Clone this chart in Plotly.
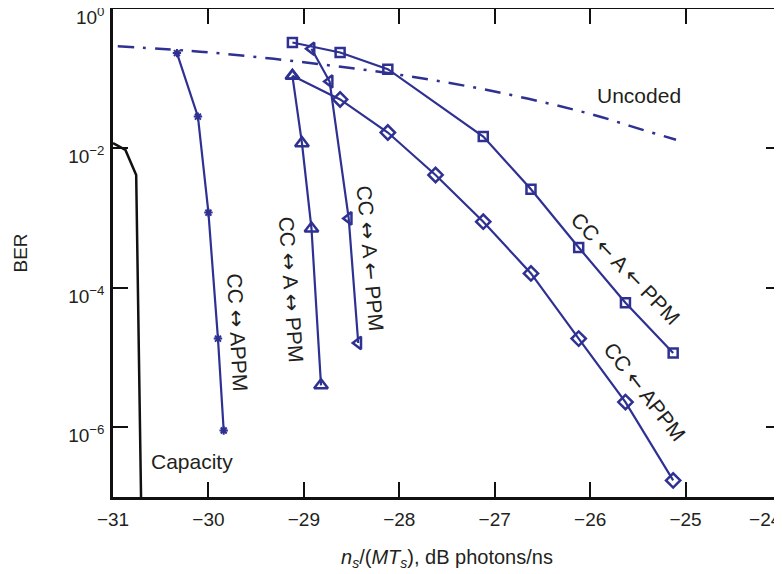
import plotly.graph_objects as go

# ---- data ----
appm_joint_x = [-30.33, -30.11, -30.00, -29.90, -29.84]
appm_joint_y = [0.233, 0.0286, 1.2e-3, 1.87e-5, 9.0e-7]

a_ppm_joint_x = [-29.12, -29.02, -28.92, -28.82]
a_ppm_joint_y = [0.110, 0.0119, 7.1e-4, 4.0e-6]

a_ppm_half_x = [-28.92, -28.73, -28.53, -28.43]
a_ppm_half_y = [0.269, 0.0912, 9.9e-4, 1.62e-5]

a_ppm_sep_x = [-29.12, -28.62, -28.12, -27.12, -26.62, -26.12, -25.63, -25.13]
a_ppm_sep_y = [0.331, 0.238, 0.137, 0.0148, 2.59e-3, 3.8e-4, 6.1e-5, 1.16e-5]

appm_sep_x = [-29.12, -28.62, -28.12, -27.62, -27.12, -26.62, -26.12, -25.63, -25.13]
appm_sep_y = [0.110, 0.0504, 0.0169, 4.16e-3, 8.9e-4, 1.61e-4, 1.87e-5, 2.3e-6, 1.73e-7]

uncoded_x = [-30.95, -30.0, -29.0, -28.0, -27.0, -26.0, -25.5, -25.1]
uncoded_y = [0.292, 0.239, 0.172, 0.114, 0.0655, 0.0313, 0.0194, 0.0133]

capacity_x = [-31.0, -30.87, -30.757, -30.705]
capacity_y = [0.0119, 0.0095, 4.16e-3, 8e-8]

x_ticks = [-31, -30, -29, -28, -27, -26, -25, -24]
x_ticktext = ["\u221231", "\u221230", "\u221229", "\u221228", "\u221227", "\u221226", "\u221225",
              "\u221224\u2007\u2007\u2007"]
y_ticks = [1e0, 1e-2, 1e-4, 1e-6]
y_ticktext = ["10<sup>0</sup>", "10<sup>\u22122</sup>", "10<sup>\u22124</sup>", "10<sup>\u22126</sup>"]

BLUE = "#2e3192"
TXT = "#231f20"
FONT = "Liberation Sans, Arial, sans-serif"

fig = go.Figure()

fig.add_trace(go.Scatter(x=capacity_x, y=capacity_y, mode="lines",
                         line=dict(color="#111111", width=2.5), showlegend=False))
fig.add_trace(go.Scatter(x=uncoded_x, y=uncoded_y, mode="lines",
                         line=dict(color=BLUE, width=2.5, dash="16px,9px,3px,9px"),
                         line_shape="spline", showlegend=False))
fig.add_trace(go.Scatter(x=appm_joint_x, y=appm_joint_y, mode="lines+markers",
                         line=dict(color=BLUE, width=2.2),
                         marker=dict(symbol="asterisk-open", size=7, color=BLUE,
                                     line=dict(color=BLUE, width=2)),
                         showlegend=False))
# first point shares the triangle marker of the CC<->A<->PPM curve
diamond_symbols = ["triangle-up-open"] + ["diamond-open"] * (len(appm_sep_x) - 1)
fig.add_trace(go.Scatter(x=appm_sep_x, y=appm_sep_y, mode="lines+markers",
                         line=dict(color=BLUE, width=2.2),
                         marker=dict(symbol=diamond_symbols, size=11, color=BLUE,
                                     line=dict(color=BLUE, width=2.5)),
                         showlegend=False))
fig.add_trace(go.Scatter(x=a_ppm_joint_x, y=a_ppm_joint_y, mode="lines+markers",
                         line=dict(color=BLUE, width=2.2),
                         marker=dict(symbol="triangle-up-open", size=12, color=BLUE,
                                     line=dict(color=BLUE, width=2.5)),
                         showlegend=False))
fig.add_trace(go.Scatter(x=a_ppm_half_x, y=a_ppm_half_y, mode="lines+markers",
                         line=dict(color=BLUE, width=2.2),
                         marker=dict(symbol="triangle-left-open", size=11, color=BLUE,
                                     line=dict(color=BLUE, width=2.5)),
                         showlegend=False))
fig.add_trace(go.Scatter(x=a_ppm_sep_x, y=a_ppm_sep_y, mode="lines+markers",
                         line=dict(color=BLUE, width=2.2),
                         marker=dict(symbol="square-open", size=9, color=BLUE,
                                     line=dict(color=BLUE, width=2.5)),
                         showlegend=False))

ARROW_LR = '<span style="font-family:DejaVu Sans">\u2194</span>'
ARROW_L = '<span style="font-family:DejaVu Sans">\u2190</span>'

ann_font = dict(family=FONT, size=21, color=TXT)
annotations = [
    dict(x=-25.485, y=-1.239, text="Uncoded", textangle=0),
    dict(x=-30.172, y=-6.497, text="Capacity", textangle=0),
    dict(x=-29.697, y=-4.644, text=f"CC {ARROW_LR} APPM", textangle=87),
    dict(x=-29.139, y=-4.019, text=f"CC {ARROW_LR} A {ARROW_LR} PPM", textangle=86),
    dict(x=-28.309, y=-3.573, text=f"CC {ARROW_LR} A {ARROW_L} PPM", textangle=85),
    dict(x=-25.631, y=-3.731, text=f"CC {ARROW_L} A {ARROW_L} PPM", textangle=46),
    dict(x=-25.433, y=-5.499, text=f"CC {ARROW_L} APPM", textangle=52),
]
for a in annotations:
    fig.add_annotation(xref="x", yref="y", showarrow=False, font=ann_font,
                       xanchor="center", yanchor="middle", **a)

fig.update_xaxes(range=[-31, -24], tickvals=x_ticks, ticktext=x_ticktext,
                 ticks="inside", ticklen=15, tickwidth=1.5, tickcolor="#111111",
                 showline=True, linecolor="#111111", linewidth=2.5, mirror="ticks",
                 showgrid=False, zeroline=False, automargin=False,
                 ticklabeloverflow="allow", ticklabelstandoff=3,
                 tickfont=dict(family=FONT, size=19, color=TXT),
                 title=dict(text="<i>n<sub>s</sub></i>/(<i>MT<sub>s</sub></i>), dB photons/ns",
                            font=dict(family=FONT, size=20, color=TXT), standoff=22))
fig.update_yaxes(type="log", range=[-7, 0], tickvals=y_ticks, ticktext=y_ticktext,
                 ticks="inside", ticklen=15, tickwidth=1.5, tickcolor="#111111",
                 showline=True, linecolor="#111111", linewidth=2.5, mirror="ticks",
                 showgrid=False, zeroline=False, automargin=False,
                 ticklabeloverflow="allow", ticklabelshift=8, ticklabelstandoff=2,
                 tickfont=dict(family=FONT, size=19, color=TXT),
                 title=dict(text="BER", font=dict(family=FONT, size=19, color=TXT), standoff=36))

# page body adds an 8px margin; size/margins compensate so the axes sit where the reference has them
fig.update_layout(width=774, height=566, margin=dict(l=105, r=1, t=1, b=77),
                  paper_bgcolor="white", plot_bgcolor="white", showlegend=False)

fig.write_html("out.html")
